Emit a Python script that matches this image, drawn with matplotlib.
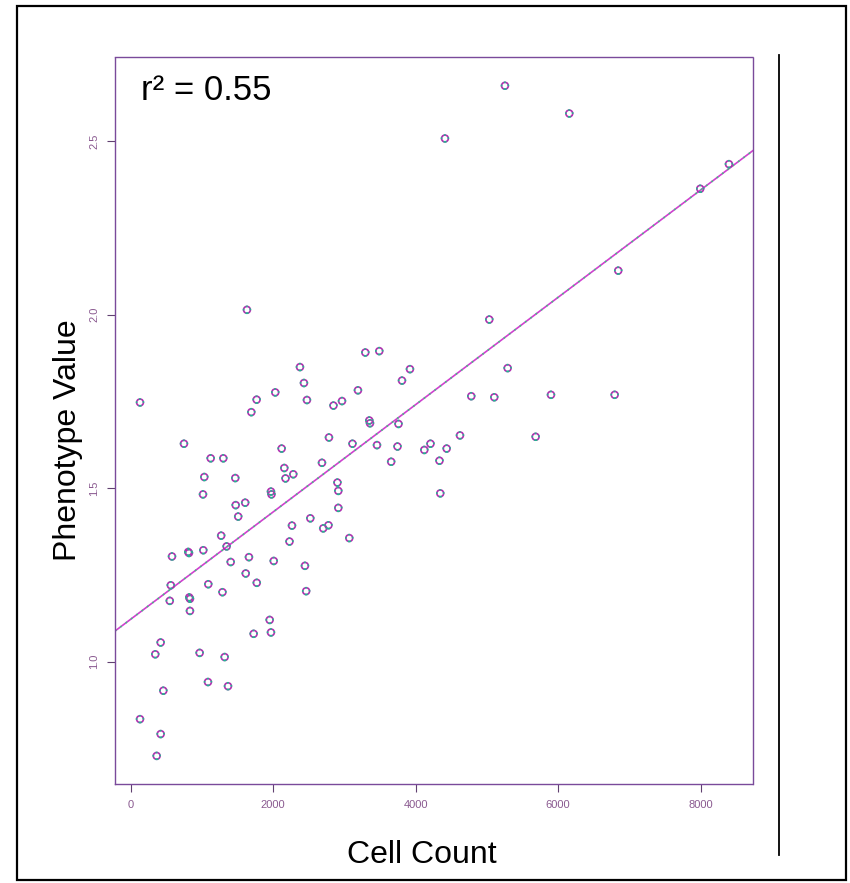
import matplotlib
matplotlib.use("Agg")
import matplotlib.pyplot as plt
from matplotlib.patches import Rectangle
from matplotlib.lines import Line2D
import numpy as np

plt.rcParams["font.family"] = ["Liberation Sans", "DejaVu Sans"]

# Cell count vs phenotype value
cell_count = [
    5253, 6156, 4411, 8397, 7994, 6843, 1632, 131, 3293, 3489,
    2376, 3920, 2432, 3808, 2029, 1768, 2474, 3190, 2966, 2846,
    1693, 3349, 3359, 3759, 2783, 3113, 3457, 3745, 4121, 4208,
    4435, 4334, 3656, 2685, 2282, 748, 2119, 1123, 1300, 2156,
    1033, 1468, 2173, 2902, 2914, 1969, 1976, 1015, 1474, 1607,
    1509, 2521, 2914, 2264, 2776, 2702, 3068, 1270, 2229, 580,
    808, 818, 1019, 1347, 1660, 1404, 2008, 2446, 1615, 1770,
    563, 1089, 1288, 2463, 549, 822, 832, 832, 1951, 1969,
    1726, 421, 345, 968, 1319, 1085, 1366, 458, 131, 421,
    365, 5033, 5291, 4780, 5103, 5899, 6793, 4622, 5684, 4345,
]
phenotype = [
    2.660, 2.580, 2.508, 2.434, 2.363, 2.127, 2.014, 1.747, 1.891, 1.895,
    1.849, 1.843, 1.803, 1.810, 1.776, 1.755, 1.754, 1.782, 1.751, 1.738,
    1.719, 1.695, 1.687, 1.685, 1.646, 1.628, 1.624, 1.620, 1.610, 1.628,
    1.614, 1.579, 1.576, 1.573, 1.540, 1.628, 1.614, 1.586, 1.586, 1.558,
    1.532, 1.529, 1.528, 1.516, 1.492, 1.490, 1.482, 1.482, 1.451, 1.458,
    1.418, 1.413, 1.443, 1.392, 1.393, 1.384, 1.356, 1.363, 1.346, 1.303,
    1.316, 1.313, 1.321, 1.332, 1.301, 1.287, 1.290, 1.276, 1.254, 1.227,
    1.220, 1.223, 1.200, 1.203, 1.175, 1.185, 1.181, 1.146, 1.120, 1.084,
    1.080, 1.055, 1.021, 1.025, 1.013, 0.941, 0.929, 0.916, 0.834, 0.791,
    0.728, 1.986, 1.846, 1.765, 1.762, 1.769, 1.769, 1.652, 1.648, 1.485,
]

# Fitted line (intercept, slope) and r^2 label
fit_intercept = 1.122
fit_slope = 1.547e-4
r_squared = 0.55

x_ticks = [0, 2000, 4000, 6000, 8000]
y_ticks = [1.0, 1.5, 2.0, 2.5]
x_limits = (-220, 8730)
y_limits = (0.648, 2.742)

fig = plt.figure(figsize=(8.5, 8.83), dpi=100)
ax = fig.add_axes([0.1353, 0.1125, 0.7502, 0.8226])

tick_col = "#8a5a90"

# Points: open circles with a magenta / green fringe
ax.scatter(cell_count, phenotype, s=24, facecolors="none",
           edgecolors="#b030b0", linewidths=1.2, zorder=3)
ax.scatter(cell_count, phenotype, s=24, facecolors="none",
           edgecolors="#20b890", linewidths=1.2, linestyles=(0, (1, 2)), zorder=4)

# Regression line across the whole axis
xs = np.array(x_limits)
ys = fit_intercept + fit_slope * xs
ax.plot(xs, ys, color="#d040d0", lw=1.2, zorder=2)
ax.plot(xs, ys, color="#40c080", lw=1.2, ls=(0, (1, 3)), zorder=2)

ax.set_xlim(*x_limits)
ax.set_ylim(*y_limits)
ax.set_xticks(x_ticks)
ax.set_xticklabels([str(v) for v in x_ticks])
ax.set_yticks(y_ticks)
ax.set_yticklabels([f"{v:.1f}" for v in y_ticks], rotation=90, va="center")
ax.tick_params(axis="both", direction="out", length=5.5, width=0.8,
               color="#604070", labelsize=8, labelcolor=tick_col, pad=6)

for side in ax.spines.values():
    side.set_color("#7a4a9a")
    side.set_linewidth(1.0)
    side.set_linestyle((0, (1, 1)))

ax.set_xlabel("Cell Count", fontsize=23, labelpad=22)
ax.set_ylabel("Phenotype Value", fontsize=23, labelpad=4)
ax.xaxis.label.set_x(0.481)
ax.yaxis.label.set_y(0.473)

ax.text(0.041, 0.941, f"r\u00b2 = {r_squared:.2f}", transform=ax.transAxes,
        fontsize=25, va="baseline", ha="left")

# Outer frame and the extra vertical line on the right
fig.patches.append(Rectangle((17 / 850, 3 / 883), 829 / 850, 874 / 883,
                             transform=fig.transFigure, fill=False,
                             edgecolor="black", lw=1.6))
fig.lines.append(Line2D([779 / 850, 779 / 850], [1 - 55 / 883, 1 - 855 / 883],
                        transform=fig.transFigure, color="black", lw=1.3))

fig.savefig("out.png", dpi=100)
plt.close(fig)
